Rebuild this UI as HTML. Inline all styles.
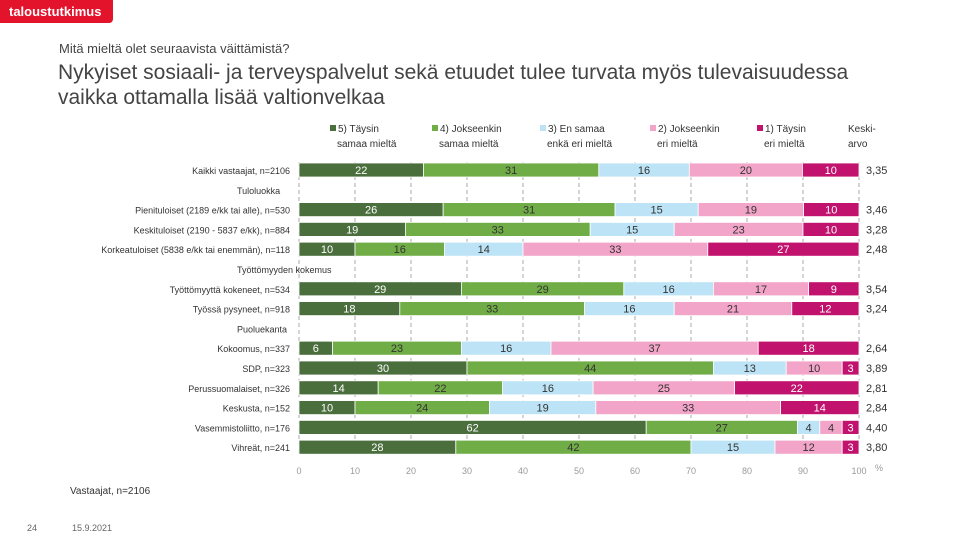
<!DOCTYPE html>
<html><head><meta charset="utf-8"><style>
body{margin:0;width:960px;height:540px;background:#fff;font-family:"Liberation Sans",sans-serif;position:relative;overflow:hidden;color:#333}
.abs{position:absolute;white-space:nowrap}
</style></head><body>
<div class="abs" style="left:0;top:0;width:113px;height:23px;background:#e3132b;border-radius:0 0 4px 0;color:#fff;font-weight:bold;font-size:13px;line-height:23px;padding-left:9px;box-sizing:border-box">taloustutkimus</div>
<div class="abs" style="left:59px;top:41px;font-size:13px;color:#444">Mitä mieltä olet seuraavista väittämistä?</div>
<div class="abs" style="left:58px;top:60px;font-size:21px;line-height:25px;color:#444">Nykyiset sosiaali- ja terveyspalvelut sekä etuudet tulee turvata myös tulevaisuudessa<br>vaikka ottamalla lisää valtionvelkaa</div>
<svg id="chart" width="960" height="540" style="position:absolute;left:0;top:0"></svg>
<div class="abs" style="left:70px;top:486px;font-size:10px">Vastaajat, n=2106</div>
<div class="abs" style="left:27px;top:523px;font-size:9px;color:#666">24</div>
<div class="abs" style="left:72px;top:523px;font-size:9px;color:#666">15.9.2021</div>
<script>
const categories=["Kaikki vastaajat, n=2106","#Tuloluokka","Pienituloiset (2189 e/kk tai alle), n=530","Keskituloiset (2190 - 5837 e/kk), n=884","Korkeatuloiset (5838 e/kk tai enemmän), n=118","#Työttömyyden kokemus","Työttömyyttä kokeneet, n=534","Työssä pysyneet, n=918","#Puoluekanta","Kokoomus, n=337","SDP, n=323","Perussuomalaiset, n=326","Keskusta, n=152","Vasemmistoliitto, n=176","Vihreät, n=241"];
const s5=[22,null,26,19,10,null,29,18,null,6,30,14,10,62,28];
const s4=[31,null,31,33,16,null,29,33,null,23,44,22,24,27,42];
const s3=[16,null,15,15,14,null,16,16,null,16,13,16,19,4,15];
const s2=[20,null,19,23,33,null,17,21,null,37,10,25,33,4,12];
const s1=[10,null,10,10,27,null,9,12,null,18,3,22,14,3,3];
const means=["3,35",null,"3,46","3,28","2,48",null,"3,54","3,24",null,"2,64","3,89","2,81","2,84","4,40","3,80"];
const ticks=[0,10,20,30,40,50,60,70,80,90,100];
const seriesNames=["5) Täysin|samaa mieltä","4) Jokseenkin|samaa mieltä","3) En samaa|enkä eri mieltä","2) Jokseenkin|eri mieltä","1) Täysin|eri mieltä"];
const colors=["#4b6e3d","#70ad47","#bde4f6","#f2a5c9","#c1126d"];
const txtCol=["#fff","#333","#333","#333","#fff"];
const svg=document.getElementById('chart');const NS="http://www.w3.org/2000/svg";
const x0=299,x1=859;const X=v=>x0+(x1-x0)*v/100;
const Y=i=>170+i*19.8;
function el(t,a,p){const e=document.createElementNS(NS,t);for(const k in a)e.setAttribute(k,a[k]);(p||svg).appendChild(e);return e;}
ticks.forEach(t=>{
 const g=el('line',{x1:X(t),x2:X(t),y1:162,y2:456,stroke:'#aaa','stroke-dasharray':'4,3','stroke-width':1});
 
 
 const tl=el('text',{x:X(t),y:474,'font-size':9,fill:'#999','text-anchor':'middle'});tl.textContent=t;
 
 
});
const pct=el('text',{x:875,y:471,'font-size':9,fill:'#999'});pct.textContent='%';


const lx=[330,432,540,650,757];
seriesNames.forEach((n,k)=>{
 const r=el('rect',{x:lx[k],y:125,width:6,height:6,fill:colors[k]});
 
 
 const p=n.split('|');
 const t=el('text',{x:lx[k]+8,y:132,'font-size':10,fill:'#333'});t.textContent=p[0];
 
 
 const t2=el('text',{x:lx[k]+7,y:147,'font-size':10,fill:'#333'});t2.textContent=p[1];
 
 
});
const kk=el('text',{x:848,y:132,'font-size':10,fill:'#333'});kk.textContent='Keski-';


const kk2=el('text',{x:848,y:147,'font-size':10,fill:'#333'});kk2.textContent='arvo';


const series=[s5,s4,s3,s2,s1];
categories.forEach((c,i)=>{
 const y=Y(i);
 if(c[0]==='#'){
  const h=el('text',{x:237,y:y+4,'font-size':9,fill:'#333'});h.textContent=c.slice(1);
  
  
  return;
 }
 const l=el('text',{x:290,y:y+4,'font-size':9,fill:'#333','text-anchor':'end'});l.textContent=c;
 
 
 const tot=series.reduce((a,s)=>a+s[i],0);let acc=0;
 series.forEach((s,k)=>{
  const v=s[i]*100/tot;const xa=X(acc),xb=X(acc+v);acc+=v;
  const r=el('rect',{x:xa,y:y-7,width:xb-xa,height:14,fill:colors[k],stroke:'#fff','stroke-width':0.8});
  
  
  const t=el('text',{x:(xa+xb)/2,y:y+4,'font-size':11,fill:txtCol[k],'text-anchor':'middle'});t.textContent=s[i];
  
  
 });
 const m=el('text',{x:866,y:y+4,'font-size':11,fill:'#333'});m.textContent=means[i];
 
 
});
</script>
</body></html>
